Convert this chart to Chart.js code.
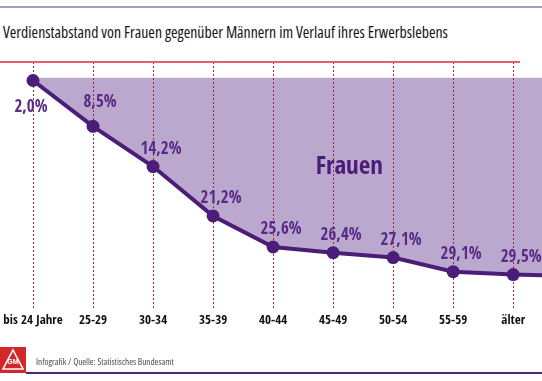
<!DOCTYPE html>
<html><head><meta charset="utf-8">
<script src="https://cdn.jsdelivr.net/npm/chart.js@4"></script>
<style>
html,body{margin:0;padding:0;background:#fff;}
#wrap{position:relative;width:542px;height:381px;overflow:hidden;font-family:"Open Sans",sans-serif;font-stretch:condensed;}
#c{position:absolute;left:0;top:0;}
.topline{position:absolute;left:0;top:6px;width:542px;height:2px;background:#a999c4;}
.title{position:absolute;left:3px;top:21px;font-size:15.8px;line-height:22px;color:#141414;white-space:nowrap;}
.redline{position:absolute;left:0;top:61px;width:520px;height:2px;background:#e4606a;z-index:2;}
.logo{position:absolute;left:0;top:347px;width:26px;height:26px;}
.source{position:absolute;left:36px;top:355px;font-size:9.2px;line-height:14px;color:#4a4a4a;white-space:nowrap;}
.bottomline{position:absolute;left:26px;top:372px;width:516px;height:2px;background:#4b2a73;}
</style></head>
<body>
<div id="wrap">
  <div class="topline"></div>
  <div class="title">Verdienstabstand von Frauen gegenüber Männern im Verlauf ihres Erwerbslebens</div>
  <canvas id="c" width="542" height="381"></canvas>
  <div class="redline"></div>
  <svg class="logo" viewBox="0 0 26 26">
    <rect width="26" height="26" fill="#d3272b"/>
    <polygon points="13,3 23,22 3,22" fill="none" stroke="#fff" stroke-width="1.6"/>
    <text x="13" y="17" font-size="7" font-weight="bold" fill="#fff" text-anchor="middle" font-family="Liberation Sans, sans-serif">GM</text>
  </svg>
  <div class="source">Infografik / Quelle: Statistisches Bundesamt</div>
  <div class="bottomline"></div>
</div>
<script>
const categories = ["bis 24 Jahre","25-29","30-34","35-39","40-44","45-49","50-54","55-59","älter"];
const gapValues = [2.0, 8.5, 14.2, 21.2, 25.6, 26.4, 27.1, 29.1, 29.5];
const valueLabels = ["2,0%","8,5%","14,2%","21,2%","25,6%","26,4%","27,1%","29,1%","29,5%"];
const tailValue = 29.6;      // line continues flat to the right edge
const fillTopValue = 1.6;    // upper edge of the shaded area
const seriesName = "Frauen";

const X_MIN = -0.55, X_MAX = 8.48;
const LINE = '#4b1d78', LABEL = '#5a2b86', FILL = '#bba8cf', DASH = '#a3203f';
const BOLD_FONT = '"Open Sans Condensed","Roboto Condensed",sans-serif';

const points = gapValues.map((v, i) => ({x: i, y: v}));
points.push({x: X_MAX, y: tailValue});

const overlay = {
  id: 'overlay',
  beforeDatasetDraw(chart, args) {
    if (args.index !== 0) return;
    const {ctx, chartArea: a, scales: {x}} = chart;
    ctx.save();
    ctx.strokeStyle = DASH; ctx.lineWidth = 1; ctx.setLineDash([2, 2]);
    categories.forEach((_, i) => {
      const px = Math.round(x.getPixelForValue(i)) + 0.5;
      ctx.beginPath(); ctx.moveTo(px, a.top); ctx.lineTo(px, a.bottom); ctx.stroke();
    });
    ctx.restore();
  },
  afterDatasetsDraw(chart) {
    const {ctx, scales: {x, y}} = chart;
    ctx.save();
    ctx.fillStyle = LABEL;
    ctx.font = 'bold 17px ' + BOLD_FONT;
    ctx.textAlign = 'center'; ctx.textBaseline = 'middle';
    valueLabels.forEach((t, i) => {
      const px = x.getPixelForValue(i), py = y.getPixelForValue(gapValues[i]);
      if (i === 0) ctx.fillText(t, px - 2, py + 27);
      else if (i === 1) ctx.fillText(t, px + 7, py - 24);
      else ctx.fillText(t, px + 8, py - 17);
    });
    ctx.fillStyle = LINE;
    ctx.font = 'bold 25px ' + BOLD_FONT;
    ctx.fillText(seriesName, x.getPixelForValue(5.27), y.getPixelForValue(14.3));
    ctx.restore();
  }
};

new Chart(document.getElementById('c'), {
  type: 'line',
  data: {
    datasets: [{
      label: seriesName,
      data: points,
      borderColor: LINE,
      borderWidth: 4,
      backgroundColor: FILL,
      fill: {value: fillTopValue},
      pointRadius: points.map((p, i) => i < gapValues.length ? 6.5 : 0),
      pointBackgroundColor: LINE,
      pointBorderWidth: 0,
      tension: 0
    }]
  },
  options: {
    responsive: false,
    animation: false,
    events: [],
    layout: {autoPadding: false, padding: {top: 62, bottom: 49, left: 0, right: 0}},
    plugins: {
      legend: {display: false},
      tooltip: {enabled: false},
      filler: {drawTime: 'beforeDatasetsDraw'}
    },
    scales: {
      x: {
        type: 'linear', min: X_MIN, max: X_MAX,
        grid: {display: false, drawTicks: false},
        border: {display: false},
        afterBuildTicks: s => { s.ticks = categories.map((_, i) => ({value: i})); },
        afterFit: s => { s.paddingLeft = 0; s.paddingRight = 0; },
        ticks: {
          autoSkip: false, maxRotation: 0, padding: 4,
          color: '#111',
          font: {family: BOLD_FONT, size: 13, weight: 'bold'},
          callback: v => categories[v]
        }
      },
      y: {type: 'linear', reverse: true, min: -0.62, max: 34.3, display: false}
    }
  },
  plugins: [overlay]
});
</script>
</body></html>
